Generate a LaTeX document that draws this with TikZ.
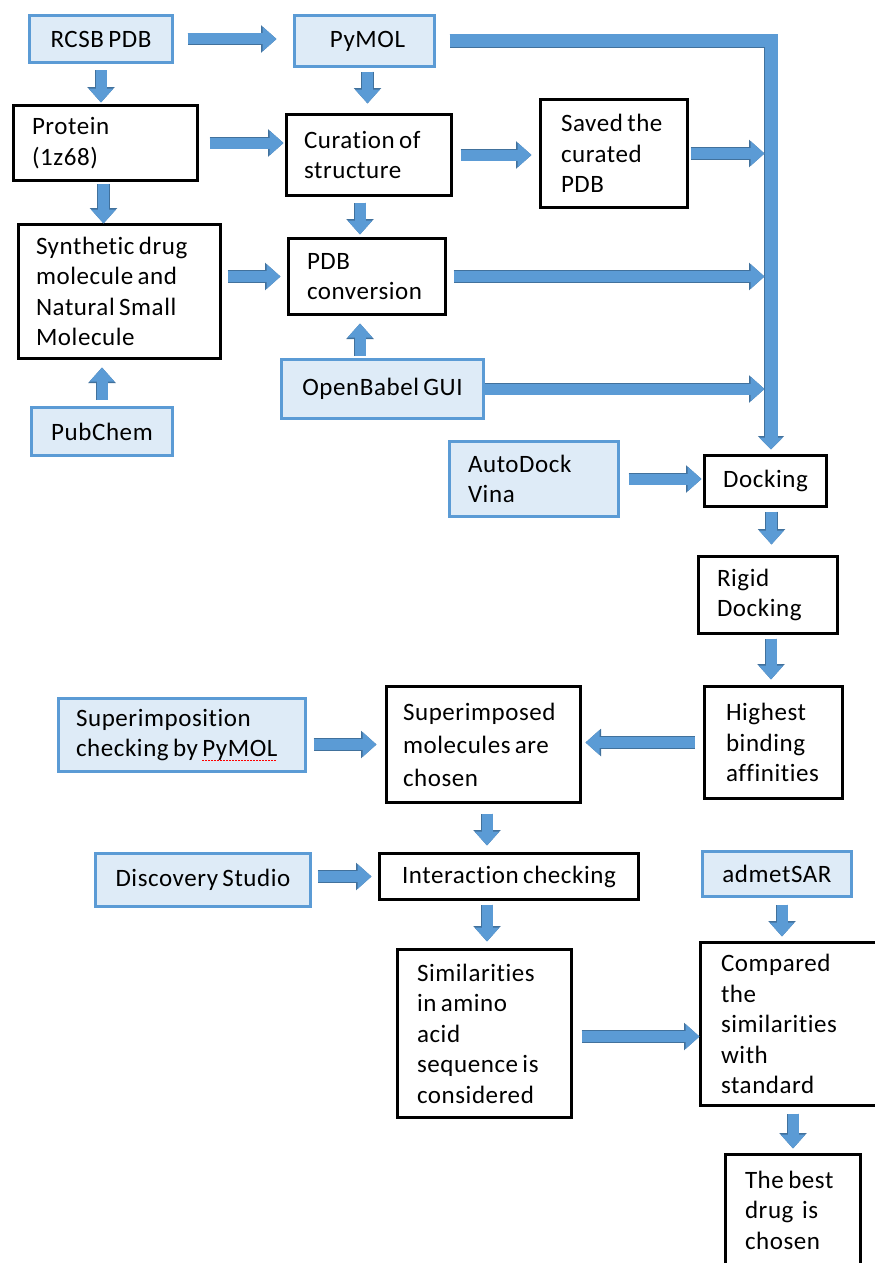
\documentclass[tikz,border=0pt]{standalone}
\usepackage{fontspec}
\setmainfont{Carlito}[WordSpace=0.7, LetterSpace=2.3, Ligatures=NoCommon]
\usetikzlibrary{arrows.meta,calc}
\definecolor{boxblue}{HTML}{5B9BD5}
\definecolor{boxfill}{HTML}{DEEBF7}
\definecolor{arrfill}{HTML}{5B9BD5}
\definecolor{arrline}{HTML}{41719C}
\newlength\spellw
\newcommand\spellmark[1]{\settowidth{\spellw}{#1}\rlap{\textcolor{red}{\raisebox{-4.5pt}{\hbox to\spellw{\xleaders\hbox{\rule{1.6pt}{1.3pt}\kern1.4pt}\hfil}}}}#1}
\begin{document}
\begin{tikzpicture}[x=1pt,y=-1pt,
  every node/.style={font=\fontsize{25pt}{30.5pt}\selectfont, text=black, inner ysep=0pt, outer sep=0pt},
  blackbox/.style={draw=black, line width=2.6pt, fill=white},
  bluebox/.style={draw=boxblue, line width=2.6pt, fill=boxfill},
  padded/.style 2 args={align=flush left, inner xsep=#1, text width=#2},
  centred/.style={align=center, inner xsep=0pt},
  flow/.style={draw=arrfill, line width=11pt, -{Triangle[width=24pt,length=14pt]},
    preaction={draw=arrline, line width=12.4pt, -{Triangle[width=26.5pt,length=15.5pt]}}},
  bigflow/.style={draw=arrfill, line width=13pt, line join=miter, -{Triangle[width=23pt,length=12pt]},
    preaction={draw=arrline, line width=14.2pt, line join=miter, -{Triangle[width=25.5pt,length=13.5pt]}}}
]
\fill[white] (0,0) rectangle (875,1263);
\useasboundingbox (0,0) rectangle (875,1263);
\clip (0,0) rectangle (875,1263);

% boxes
\node[bluebox, centred, minimum width=143pt, minimum height=47pt] (rcsb) at (101,39) {RCSB PDB};
\node[bluebox, centred, minimum width=140pt, minimum height=51pt] (pymol) at (364.5,41) {\hspace*{6pt}PyMOL};
\node[blackbox, padded={18.5pt}{147pt}, minimum height=75pt] (protein) at (105.5,143) {Protein\\(1z68)};
\node[blackbox, padded={17.5pt}{130pt}, minimum height=81pt] (curation) at (369,155) {Curation of\\structure};
\node[blackbox, padded={20.5pt}{106pt}, minimum height=108pt] (saved) at (614,153.5) {Saved the\\curated\\PDB};
\node[blackbox, padded={17.5pt}{167pt}, minimum height=134pt] (synth) at (119.5,291.5) {Synthetic drug\\molecule and\\Natural Small\\Molecule};
\node[blackbox, padded={18.5pt}{120pt}, minimum height=76pt] (pdbconv) at (367,276.5) {PDB\\conversion};
\node[bluebox, centred, minimum width=202pt, minimum height=59pt] (openbabel) at (382.5,389) {OpenBabel GUI};
\node[bluebox, centred, minimum width=141pt, minimum height=48pt] (pubchem) at (102,431.5) {PubChem};
\node[bluebox, padded={18.5pt}{132pt}, minimum height=75pt] (autodock) at (534,479) {AutoDock\\Vina};
\node[blackbox, centred, minimum width=122pt, minimum height=51pt] (docking) at (765.5,481) {Docking};
\node[blackbox, padded={18.5pt}{102pt}, minimum height=77pt] (rigid) at (768,595) {Rigid\\Docking};
\node[blackbox, padded={21.5pt}{95pt}, minimum height=112pt] (highest) at (773.5,742.5) {Highest\\binding\\affinities};
\node[blackbox, padded={16.5pt}{161pt}, minimum height=116pt, font=\fontsize{25pt}{33pt}\selectfont] (superimposed) at (483.5,744.5) {Superimposed\\molecules are\\chosen};
\node[bluebox, padded={17.5pt}{212pt}, minimum height=73pt] (superimposition) at (182,735) {Superimposition\\checking by \spellmark{PyMOL}};
\node[bluebox, centred, minimum width=215pt, minimum height=53pt] (discovery) at (203,880) {Discovery Studio};
\node[blackbox, centred, minimum width=259pt, minimum height=46pt] (interaction) at (509,876.5) {Interaction checking};
\node[blackbox, padded={19.5pt}{135pt}, minimum height=168pt] (similarities) at (484.5,1033.5) {Similarities\\in amino\\acid\\sequence is\\considered};
\node[bluebox, centred, minimum width=149pt, minimum height=45pt] (admet) at (777,874) {admetSAR};
\node[blackbox, padded={20.5pt}{152pt}, minimum height=163pt] (compared) at (797,1024) {Compared\\the\\similarities\\with\\standard};
\node[blackbox, padded={19.5pt}{96pt}, minimum height=111pt] (best) at (793,1210) {The best\\drug~ is\\chosen};

\coordinate (corner) at (771,41);

% connectors
\draw[bigflow, shorten <=15pt, shorten >=6pt] (pymol.east) -- (pymol.east -| corner) -- (corner |- docking.north);
\draw[flow, shorten <=15pt, shorten >=18pt] (rcsb.east) -- (rcsb.east -| pymol.west);
\draw[flow, shorten <=8pt, shorten >=3pt] (rcsb.south) -- (rcsb.south |- protein.north);
\draw[flow, shorten <=5pt, shorten >=11pt] ([xshift=3pt]pymol.south) -- ([xshift=3pt]pymol.south |- curation.north);
\draw[flow, shorten <=12pt, shorten >=3pt] (protein.east) -- (protein.east -| curation.west);
\draw[flow, shorten <=9pt, shorten >=9pt] (curation.east) -- (curation.east -| saved.west);
\draw[flow, shorten <=3pt, shorten >=6.5pt] (saved.east) -- (saved.east -| corner);
\draw[flow, shorten <=7pt, shorten >=4pt] ([xshift=-9pt]curation.south) -- ([xshift=-9pt]curation.south |- pdbconv.north);
\draw[flow, shorten <=3pt, shorten >=1pt] ([xshift=-2pt]protein.south) -- ([xshift=-2pt]protein.south |- synth.north);
\draw[flow, shorten <=7pt, shorten >=8pt] (synth.east |- pdbconv.west) -- (pdbconv.west);
\draw[flow, shorten <=8pt, shorten >=6.5pt] (pdbconv.east) -- (pdbconv.east -| corner);
\draw[flow, shorten <=4pt, shorten >=9pt] ([xshift=-7pt]pdbconv.south |- openbabel.north) -- ([xshift=-7pt]pdbconv.south);
\draw[flow, shorten <=1pt, shorten >=6.5pt] (openbabel.east) -- (openbabel.east -| corner);
\draw[flow, shorten <=8pt, shorten >=9pt] (pubchem.north) -- (pubchem.north |- synth.south);
\draw[flow, shorten <=10pt, shorten >=3pt] (autodock.east) -- (autodock.east -| docking.west);
\draw[flow, shorten <=5pt, shorten >=12pt] ([xshift=6pt]docking.south) -- ([xshift=6pt]docking.south |- rigid.north);
\draw[flow, shorten <=5pt, shorten >=7pt] ([xshift=3pt]rigid.south) -- ([xshift=3pt]rigid.south |- highest.north);
\draw[flow, shorten <=10pt, shorten >=5pt] (highest.west) -- (highest.west -| superimposed.east);
\draw[flow, shorten <=8pt, shorten >=10pt] (superimposition.east |- superimposed.west) -- (superimposed.west);
\draw[flow, shorten <=11pt, shorten >=8pt] ([xshift=3.5pt]superimposed.south) -- ([xshift=3.5pt]superimposed.south |- interaction.north);
\draw[flow, shorten <=7pt, shorten >=8pt] (discovery.east |- interaction.west) -- (interaction.west);
\draw[flow, shorten <=5pt, shorten >=8pt] ([xshift=2.5pt]similarities.north |- interaction.south) -- ([xshift=2.5pt]similarities.north);
\draw[flow, shorten <=10pt, shorten >=1pt] ([yshift=-3pt]similarities.east) -- ([yshift=-3pt]similarities.east -| compared.west);
\draw[flow, shorten <=8pt, shorten >=6pt] ([xshift=5pt]admet.south) -- ([xshift=5pt]admet.south |- compared.north);
\draw[flow, shorten <=8pt, shorten >=6pt] (best.north |- compared.south) -- (best.north);
\end{tikzpicture}
\end{document}
